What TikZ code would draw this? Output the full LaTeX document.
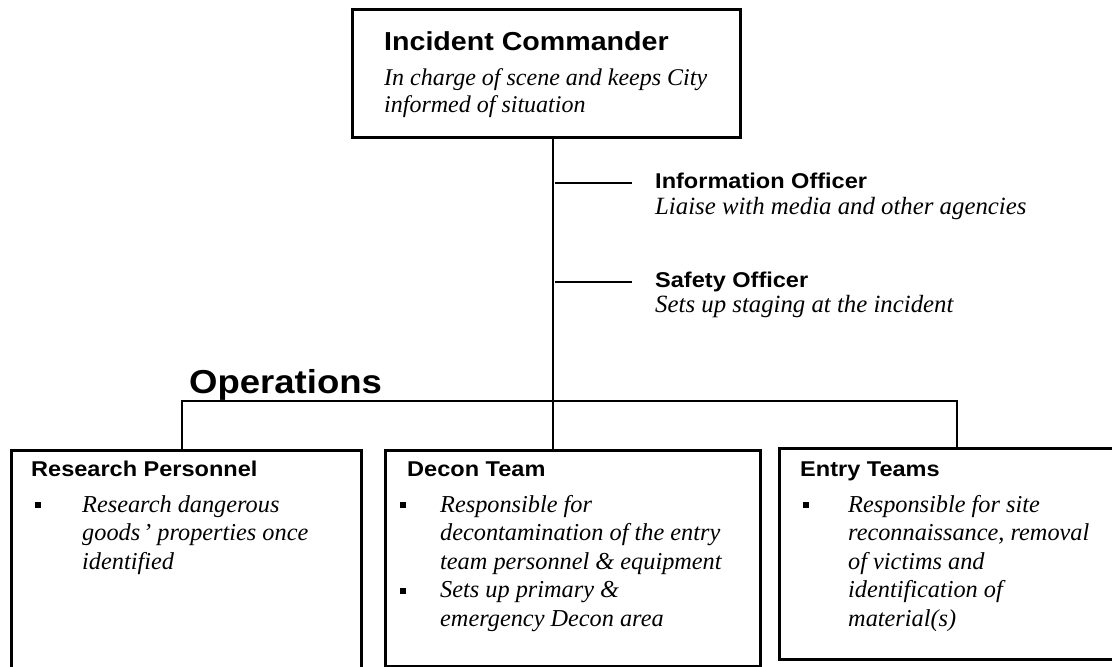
\documentclass[tikz,border=0pt]{standalone}
\usepackage{fontspec}
\setmainfont{Liberation Serif}
\setsansfont{Liberation Sans}[FakeStretch=1.1]
\newcommand{\bsq}{\rule[4pt]{6pt}{6pt}}
\begin{document}
\begin{tikzpicture}[x=1pt,y=-1pt,
  box/.style={draw, line width=2.6pt, rectangle, anchor=north west, inner sep=0pt},
  conn/.style={line width=2.4pt},
  head/.style={font=\sffamily\bfseries\fontsize{21.4}{26}\selectfont, anchor=base west, inner sep=0pt},
  desc/.style={font=\itshape\fontsize{24.3}{28.5}\selectfont, anchor=base west, inner sep=0pt},
  bul/.style={anchor=base west, inner sep=0pt, font=\fontsize{24}{28.5}\selectfont}
]
\useasboundingbox (0,0) rectangle (1112,667);
% boxes
\node[box, minimum width=388pt, minimum height=128pt] (ic) at (351,8) {};
\node[box, minimum width=350pt, minimum height=222pt] (research) at (10,449) {};
\node[box, minimum width=375pt, minimum height=216pt] (decon) at (384,449) {};
\node[box, minimum width=336pt, minimum height=211pt] (entry) at (778,447) {};
% Incident commander text
\node[head, font=\sffamily\bfseries\fontsize{26}{30}\selectfont] (ich) at (384,50) {Incident Commander};
\node[desc, font=\itshape\fontsize{24}{27}\selectfont] (icd) at (384,85) {\begin{tabular}[t]{@{}l@{}}In charge of scene and keeps City\\ informed of situation\end{tabular}};
% officers
\node[head] (infoh) at (655,188) {Information Officer};
\node[desc, font=\itshape\fontsize{24.8}{28}\selectfont] (infod) at (655,214) {Liaise with media and other agencies};
\node[head] (safeh) at (655,287) {Safety Officer};
\node[desc, font=\itshape\fontsize{24.8}{28}\selectfont] (safed) at (655,312) {Sets up staging at the incident};
% operations
\node[head, font=\sffamily\bfseries\fontsize{33.2}{38}\selectfont] (ops) at (189,393) {Operations};
% connectors
\coordinate (trunk) at (553,0);
\coordinate (infoL) at (555,183);
\coordinate (infoR) at (632,183);
\coordinate (safeL) at (555,282);
\coordinate (safeR) at (632,282);
\coordinate (busL) at (182,401);
\coordinate (busR) at (957,401);
\draw[conn] (ic.south -| trunk) -- (decon.north -| trunk);
\draw[conn] (infoL) -- (infoR);
\draw[conn] (safeL) -- (safeR);
\draw[conn] (research.north -| busL) -- (busL) -- (busR) -- (entry.north -| busR);
% research
\node[head] (resh) at (31,476) {Research Personnel};
\node[bul] (resb) at (35,512) {\bsq};
\node[desc] (resd) at (82,512) {\begin{tabular}[t]{@{}l@{}}Research dangerous\\ goods\kern3pt' properties once\\ identified\end{tabular}};
% decon
\node[head] (dech) at (407,476) {Decon Team};
\node[bul] (decb1) at (400,512) {\bsq};
\node[bul] (decb2) at (400,597.5) {\bsq};
\node[desc] (decd) at (440,512) {\begin{tabular}[t]{@{}l@{}}Responsible for\\ decontamination of the entry\\ team personnel \& equipment\\ Sets up primary \&\\ emergency Decon area\end{tabular}};
% entry
\node[head] (enth) at (800,476) {Entry Teams};
\node[bul] (entb) at (803,512) {\bsq};
\node[desc] (entd) at (848,512) {\begin{tabular}[t]{@{}l@{}}Responsible for site\\ reconnaissance, removal\\ of victims and\\ identification of\\ material(s)\end{tabular}};
\end{tikzpicture}
\end{document}
